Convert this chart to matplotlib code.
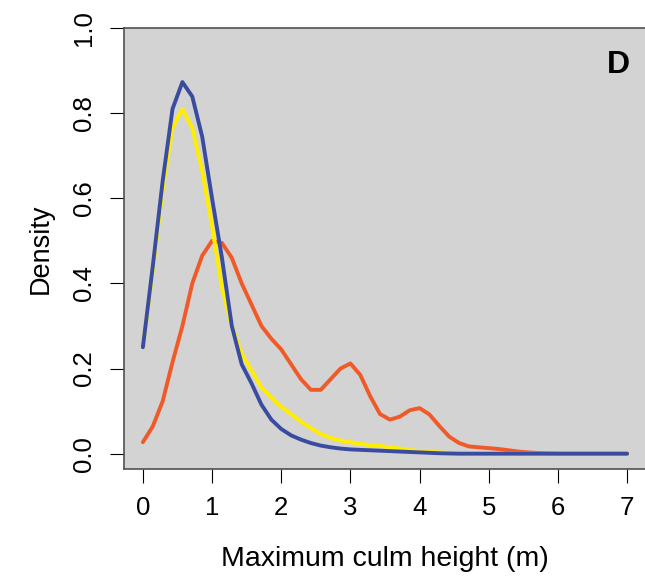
import numpy as np
import matplotlib
matplotlib.use("Agg")
import matplotlib.pyplot as plt

plt.rcParams['font.family'] = ['Liberation Sans', 'DejaVu Sans']

# density evaluated on 50 points from 0 to 7 m
height = np.linspace(0, 7, 50)

dens_orange = [0.027, 0.064, 0.123, 0.215, 0.300, 0.400, 0.465, 0.500, 0.495, 0.460,
               0.400, 0.350, 0.300, 0.270, 0.245, 0.210, 0.175, 0.150, 0.150, 0.175,
               0.200, 0.212, 0.185, 0.135, 0.093, 0.080, 0.087, 0.102, 0.107, 0.092,
               0.065, 0.040, 0.025, 0.017, 0.015, 0.013, 0.011, 0.008, 0.005, 0.003,
               0.0015, 0.0008, 0, 0, 0, 0, 0, 0, 0, 0]

dens_yellow = [0.250, 0.430, 0.620, 0.765, 0.810, 0.765, 0.665, 0.535, 0.390, 0.300,
               0.235, 0.195, 0.155, 0.132, 0.110, 0.093, 0.075, 0.060, 0.046, 0.037,
               0.031, 0.027, 0.023, 0.020, 0.018, 0.015, 0.012, 0.009, 0.006, 0.004,
               0.003, 0.002, 0.001, 0, 0, 0, 0, 0, 0, 0,
               0, 0, 0, 0, 0, 0, 0, 0, 0, 0]

dens_blue = [0.250, 0.440, 0.640, 0.810, 0.873, 0.839, 0.745, 0.600, 0.460, 0.300,
             0.210, 0.165, 0.115, 0.080, 0.058, 0.043, 0.033, 0.025, 0.019, 0.015,
             0.012, 0.010, 0.009, 0.008, 0.007, 0.006, 0.005, 0.004, 0.003, 0.002,
             0.001, 0.0005, 0, 0, 0, 0, 0, 0, 0, 0,
             0, 0, 0, 0, 0, 0, 0, 0, 0, 0]

fig = plt.figure(figsize=(6.45, 5.81), dpi=100)
ax = fig.add_axes([123.5 / 645, 112 / 581, 523 / 645, 441 / 581])
ax.set_facecolor('#D3D3D3')

lw = 2.8
ax.plot(height, dens_orange, color='#F05A28', lw=lw, solid_capstyle='round')
ax.plot(height, dens_yellow, color='#FFEE00', lw=lw, solid_capstyle='round')
ax.plot(height, dens_blue, color='#3A4C9F', lw=lw, solid_capstyle='round')

ax.set_xlim(-0.28, 7.28)
ax.set_ylim(-0.036, 1.0)
ax.set_xticks(range(8))
ax.set_yticks([0.0, 0.2, 0.4, 0.6, 0.8, 1.0])
ax.set_yticklabels(['0.0', '0.2', '0.4', '0.6', '0.8', '1.0'], rotation=90, va='center')

for s in ax.spines.values():
    s.set_color('#505050')
    s.set_linewidth(1.2)

ax.tick_params(axis='x', length=10, width=0.8, pad=9.5, labelsize=18.5)
ax.tick_params(axis='y', length=10, width=0.8, pad=9.7, labelsize=18.5)

ax.set_xlabel('Maximum culm height (m)', fontsize=20.5, labelpad=19)
ax.set_ylabel('Density', fontsize=19.5, labelpad=13)

ax.text(0.947, 0.917, 'D', transform=ax.transAxes, fontsize=23, fontweight='bold',
        ha='center', va='center')

fig.savefig('out.png', dpi=100)
